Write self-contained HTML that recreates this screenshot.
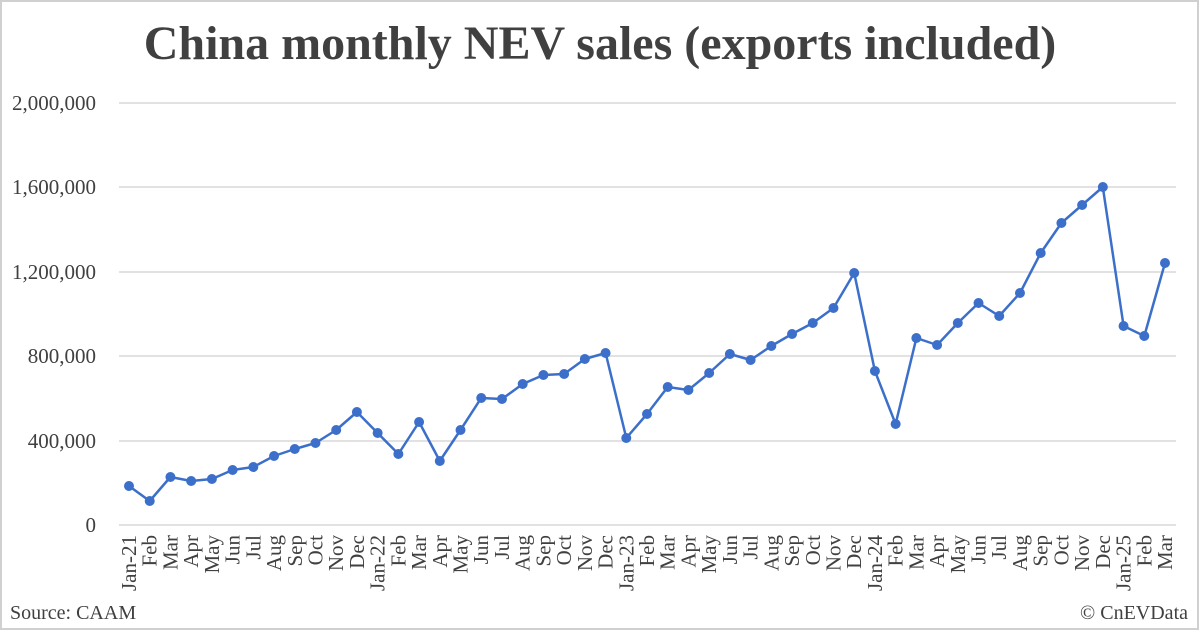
<!DOCTYPE html>
<html><head><meta charset="utf-8"><style>
html,body{margin:0;padding:0;background:#fff}
svg{display:block}
text{font-family:"Liberation Serif",serif;fill:#404040}
</style></head><body>
<svg width="1200" height="631" viewBox="0 0 1200 631" xmlns="http://www.w3.org/2000/svg">
<rect x="1" y="1" width="1197" height="628" fill="#fff" stroke="#d0d0d0" stroke-width="2"/>
<text x="600" y="59" text-anchor="middle" font-size="48" font-weight="bold" fill="#404040">China monthly NEV sales (exports included)</text>
<g stroke="#d9d9d9" stroke-width="1.5">
<line x1="119" x2="1176" y1="103" y2="103"/>
<line x1="119" x2="1176" y1="187" y2="187"/>
<line x1="119" x2="1176" y1="272" y2="272"/>
<line x1="119" x2="1176" y1="356" y2="356"/>
<line x1="119" x2="1176" y1="441" y2="441"/>
<line x1="119" x2="1176" y1="525" y2="525"/>
</g>
<g font-size="21" text-anchor="end">
<text x="96" y="110">2,000,000</text>
<text x="96" y="194">1,600,000</text>
<text x="96" y="279">1,200,000</text>
<text x="96" y="363">800,000</text>
<text x="96" y="448">400,000</text>
<text x="96" y="532">0</text>
</g>
<g id="xl" font-size="21" text-anchor="end"></g>
<polyline id="ln" fill="none" stroke="#3c6fca" stroke-width="2.5" stroke-linejoin="round"/>
<g id="pts" fill="#3c6fca"></g>
<text x="10" y="619" font-size="20" fill="#595959">Source: CAAM</text>
<text x="1188" y="619" font-size="20" text-anchor="end" fill="#595959">© CnEVData</text>
</svg>
<script>
var ys=[486,501,477,481,479,470,467,456,449,443,430,412,433,454,422,461,430,398,399,384,375,374,359,353,438,414,387,390,373,354,360,346,334,323,308,273,371,424,338,345,323,303,316,293,253,223,205,187,326,336,263];
var m=["Feb","Mar","Apr","May","Jun","Jul","Aug","Sep","Oct","Nov","Dec"];
var yrs=["Jan-21","Jan-22","Jan-23","Jan-24","Jan-25"];
var ns="http://www.w3.org/2000/svg",pts=[],g=document.getElementById("pts"),xl=document.getElementById("xl");
for(var i=0;i<ys.length;i++){var x=129+i*20.72;pts.push(x.toFixed(1)+","+ys[i]);
var c=document.createElementNS(ns,"circle");c.setAttribute("cx",x);c.setAttribute("cy",ys[i]);c.setAttribute("r",5);g.appendChild(c);
var t=document.createElementNS(ns,"text");var lab=(i%12==0)?yrs[i/12]:m[i%12-1];t.textContent=lab;
t.setAttribute("transform","translate("+(x+7)+",535) rotate(-90)");xl.appendChild(t);}
document.getElementById("ln").setAttribute("points",pts.join(" "));
</script>
</body></html>
